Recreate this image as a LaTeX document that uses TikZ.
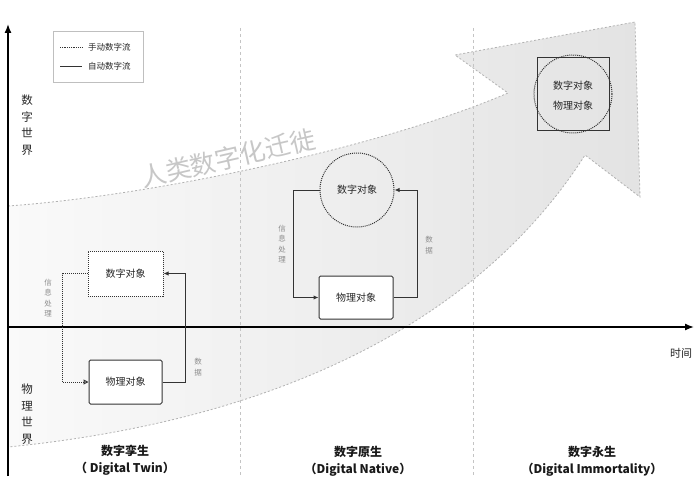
\documentclass[tikz,border=0pt]{standalone}
\usepackage{fontspec}
\setmainfont{Noto Sans CJK SC}
\usetikzlibrary{arrows.meta,shapes.geometric}
\definecolor{linec}{HTML}{333333}
\definecolor{sepc}{HTML}{C4C4C4}
\definecolor{labc}{HTML}{8C8C8C}
\begin{document}
\begin{tikzpicture}[x=1pt,y=-1pt,
  objtext/.style={font=\fontsize{10}{12}\selectfont,text=black!85},
  dobj/.style={objtext,draw=linec,densely dotted,line width=1pt,minimum width=75pt,minimum height=45pt,inner sep=0pt},
  pobj/.style={objtext,draw=linec,line width=1pt,rounded corners=1.5pt,minimum width=73pt,minimum height=44pt,inner sep=0pt},
  cobj/.style={objtext,draw=linec,densely dotted,line width=1pt,circle,inner sep=0pt},
  autoflow/.style={draw=linec,line width=1pt,-{Latex[length=5pt,width=4.5pt]}},
  manflow/.style={draw=linec,line width=1pt,densely dotted,-{Triangle[open,length=5pt,width=5pt]}},
  graylab/.style={font=\fontsize{7.5}{10.5}\selectfont,text=labc,align=center,inner sep=0pt},
  axlab/.style={font=\fontsize{11.5}{16.5}\selectfont,text=black!85,align=center,inner sep=0pt},
  stage/.style={font=\bfseries\fontsize{12}{17}\selectfont,text=black!90,align=center,inner sep=0pt},
  sepline/.style={draw=sepc,dashed,line width=1pt,dash pattern=on 3pt off 3pt}
]
\useasboundingbox (0,0) rectangle (700,492);
\fill[white] (0,0) rectangle (700,492);

% big migration arrow
\shade[left color=black!2,right color=black!11]
  (8,206) .. controls (150,196) and (380,148) .. (508,93)
  -- (455,55) -- (635,22) -- (640,197) -- (585,155)
  .. controls (480,320) and (280,420) .. (8,447) -- cycle;
\draw[draw=black!30,dashed,dash pattern=on 2pt off 2pt,line width=0.8pt]
  (8,206) .. controls (150,196) and (380,148) .. (508,93)
  -- (455,55) -- (635,22) -- (640,197) -- (585,155)
  .. controls (480,320) and (280,420) .. (8,447);
\node[font=\fontsize{25.5}{26}\selectfont,text=black!22,rotate=13,inner sep=0pt] (mig) at (228,158) {人类数字化迁徙};

% separators
\coordinate (s1t) at (240,28); \coordinate (s1b) at (240,476);
\coordinate (s2t) at (473,28); \coordinate (s2b) at (473,476);
\draw[sepline] (s1t) -- (s1b);
\draw[sepline] (s2t) -- (s2b);

% axes
\coordinate (o) at (8,327);
\coordinate (ytop) at (8,24);
\coordinate (ybot) at (8,476);
\coordinate (xend) at (694,327);
\draw[line width=1.4pt,-{Latex[length=9pt,width=7pt]}] (ybot) -- (ytop);
\draw[line width=1.4pt,-{Latex[length=9pt,width=7pt]}] (o) -- (xend);
\node[font=\fontsize{11}{12}\selectfont,text=black!85,inner sep=0pt] (time) at (681,353) {时间};
\node[axlab] (dw) at (27,125) {数\\字\\世\\界};
\node[axlab] (pw) at (27,414) {物\\理\\世\\界};

% legend
\node[draw=black!25,line width=0.8pt,fill=white,minimum width=90pt,minimum height=51pt,inner sep=0pt] (leg) at (98,56.5) {};
\coordinate (l1a) at (60,47); \coordinate (l1b) at (82,47);
\coordinate (l2a) at (60,66); \coordinate (l2b) at (82,66);
\draw[draw=linec,densely dotted,line width=0.8pt] (l1a) -- (l1b);
\draw[draw=linec,line width=0.8pt] (l2a) -- (l2b);
\node[font=\fontsize{8.5}{9}\selectfont,text=black!85,anchor=west,inner sep=0pt] (lt1) at (88,47) {手动数字流};
\node[font=\fontsize{8.5}{9}\selectfont,text=black!85,anchor=west,inner sep=0pt] (lt2) at (88,66) {自动数字流};

% stage 1: digital twin
\node[dobj,fill=white] (d1) at (125.5,273.5) {数字对象};
\node[pobj,fill=white] (p1) at (125.5,382) {物理对象};
\draw[autoflow] (p1.east) -- ++(23,0) |- (d1.east);
\draw[manflow] (d1.west) -- ++(-25,0) |- (p1.west);
\node[graylab] (g1) at (48,298) {信\\息\\处\\理};
\node[graylab] (g2) at (198,367) {数\\据};

% stage 2: digital native
\node[cobj,minimum size=74pt] (c2) at (357,190) {数字对象};
\node[pobj,minimum width=74pt,minimum height=43pt,fill=white] (p2) at (356,297.5) {物理对象};
\draw[autoflow] (c2.west) -- ++(-26,0) |- (p2.west);
\draw[autoflow] (p2.east) -- ++(24,0) |- (c2.east);
\node[graylab] (g3) at (282,244) {信\\息\\处\\理};
\node[graylab] (g4) at (429,245) {数\\据};

% stage 3: digital immortality
\node[draw=linec,line width=1pt,minimum width=72pt,minimum height=72pt,inner sep=0pt] (r3) at (573,94) {};
\node[cobj,minimum size=78pt] (c3) at (573,94) {};
\node[objtext,inner sep=0pt] (t3a) at (573,86) {数字对象};
\node[objtext,inner sep=0pt] (t3b) at (573,106) {物理对象};

% stage labels
\node[stage] (st1) at (125,460) {数字孪生\\（ Digital Twin）};
\node[stage] (st2) at (358,461) {数字原生\\（Digital Native）};
\node[stage] (st3) at (592,461) {数字永生\\（Digital Immortality）};
\end{tikzpicture}
\end{document}
